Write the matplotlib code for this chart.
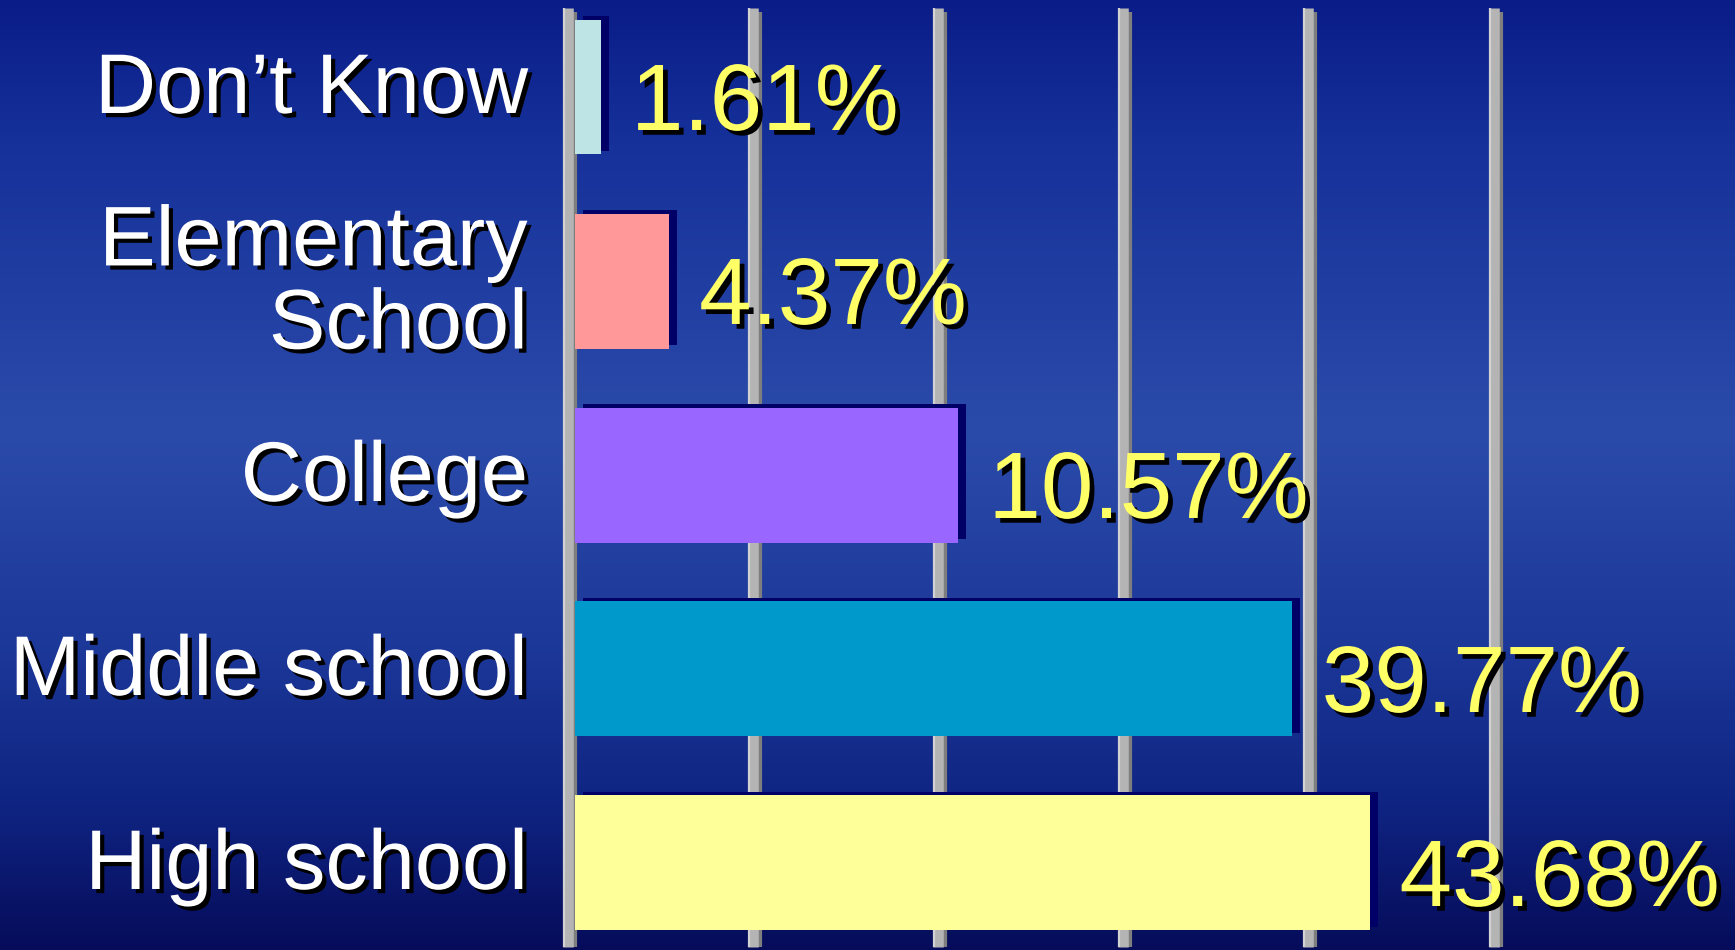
import numpy as np
import matplotlib
matplotlib.use("Agg")
import matplotlib.pyplot as plt
import matplotlib.patheffects as pe
import matplotlib.transforms as mtransforms
from matplotlib.colors import LinearSegmentedColormap

# ---------------- data ----------------
categories = ["Don\u2019t Know", "Elementary\nSchool", "College", "Middle school", "High school"]
share_labels = [1.61, 4.37, 10.57, 39.77, 43.68]          # printed percentages
bar_lengths = [1.40, 5.08, 20.7, 38.7, 42.9]               # bar lengths read against the grid (units of %)
bar_colors = ["#BFE4E6", "#FF9999", "#9966FF", "#0099CC", "#FFFF99"]
grid_ticks = [0, 10, 20, 30, 40, 50]

# ---------------- figure ----------------
W, H, DPI = 1735, 950, 100
fig = plt.figure(figsize=(W / DPI, H / DPI), dpi=DPI)
plt.rcParams['font.family'] = ['Liberation Sans', 'DejaVu Sans']

# background gradient
bg = fig.add_axes([0, 0, 1, 1], zorder=0)
cmap = LinearSegmentedColormap.from_list("bg", [
    (0.00, "#0A1C88"), (0.15, "#16319A"), (0.45, "#2B4BAA"),
    (0.68, "#1C3899"), (0.85, "#0F2482"), (1.00, "#060C5A")])
grad = np.linspace(0, 1, 256).reshape(-1, 1)
bg.imshow(grad, aspect="auto", cmap=cmap, extent=[0, 1, 1, 0])
bg.set_xlim(0, 1); bg.set_ylim(1, 0)
bg.axis("off")

# main axes: x=0 at pixel 575, 18.52 px per unit; rows every 194 px from 87 px
px_per_unit = 18.52
left_px = 575
ax = fig.add_axes([left_px / W, 0, (W - left_px) / W, 1], zorder=1)
ax.patch.set_alpha(0)
ax.set_xlim(0, (W - left_px) / px_per_unit)
ypos = np.arange(len(categories))
ax.set_ylim((H - 87) / 194, -87 / 194)
ax.axis("off")

def y_of(px):
    return (px - 87) / 194

# 3D-look grid bars
light_tr = mtransforms.offset_copy(ax.transData, fig=fig, x=-7.5, y=0, units='dots')
hi_tr = mtransforms.offset_copy(ax.transData, fig=fig, x=-11.5, y=0, units='dots')
dark_tr = mtransforms.offset_copy(ax.transData, fig=fig, x=-0.5, y=0, units='dots')
for g in grid_ticks:
    ax.plot([g, g], [y_of(12), y_of(947)], color="#7E7E7E", lw=3.0,
            solid_capstyle='butt', transform=dark_tr, zorder=1, clip_on=False)
    ax.plot([g, g], [y_of(8), y_of(947)], color="#B4B4B4", lw=7.6,
            solid_capstyle='butt', transform=light_tr, zorder=1.1, clip_on=False)
    ax.plot([g, g], [y_of(8), y_of(947)], color="#D2D2D2", lw=1.6,
            solid_capstyle='butt', transform=hi_tr, zorder=1.2, clip_on=False)

# bars with navy depth
bars = ax.barh(ypos, bar_lengths, height=135 / 194, left=0, color=bar_colors,
               edgecolor='none', zorder=3)
for b in bars:
    b.set_path_effects([pe.SimplePatchShadow(offset=(5.8, 2.2), shadow_rgbFace="#000066", alpha=1.0),
                        pe.Normal()])

txt_shadow = [pe.withSimplePatchShadow(offset=(3, -3), shadow_rgbFace='black', alpha=1.0)]
val_shadow = [pe.withSimplePatchShadow(offset=(3.4, -3.4), shadow_rgbFace='black', alpha=1.0)]

# category labels
for i, cat in enumerate(categories):
    ax.annotate(cat, xy=(0, ypos[i]), xytext=(-47, -4), textcoords='offset pixels',
                ha='right', va='center', fontsize=61, color='white',
                linespacing=1.05, path_effects=txt_shadow, annotation_clip=False, zorder=5)

# value labels
for i, (v, s) in enumerate(zip(bar_lengths, share_labels)):
    ax.annotate(f"{s:.2f}%", xy=(v, ypos[i]), xytext=(30, -43), textcoords='offset pixels',
                ha='left', va='baseline', fontsize=68, color='#FFFF66',
                path_effects=val_shadow, annotation_clip=False, zorder=5)

fig.savefig("out.png", dpi=DPI)
